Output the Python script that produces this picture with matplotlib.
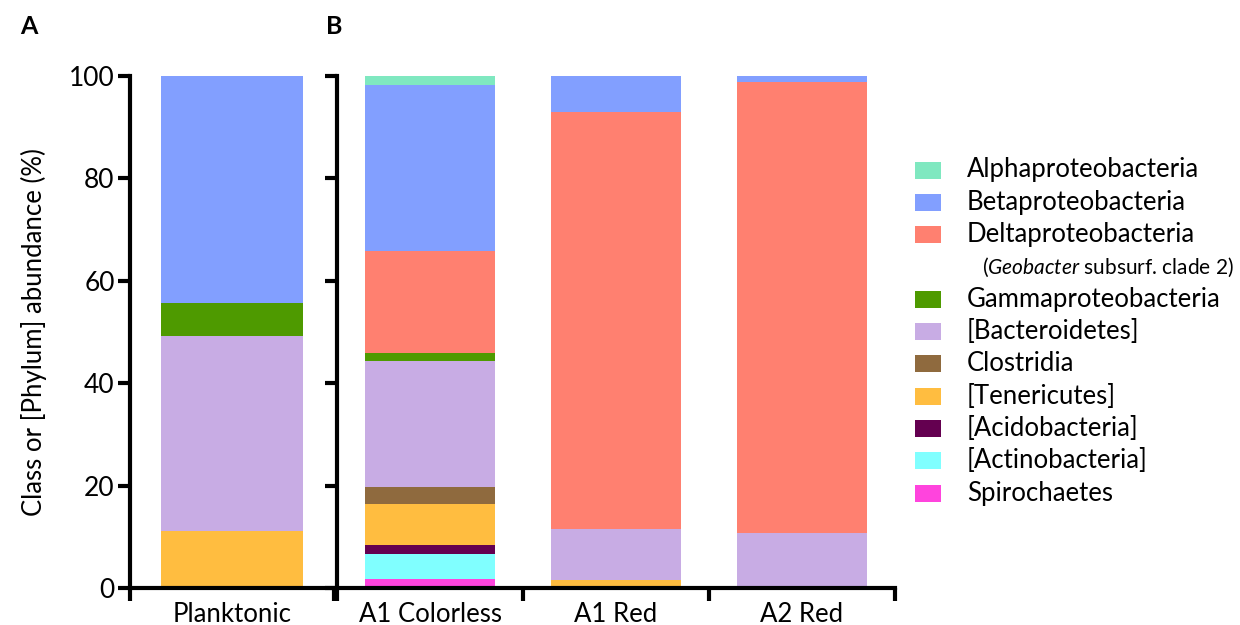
import matplotlib
matplotlib.use('Agg')
import matplotlib.pyplot as plt
import matplotlib.patches as mpatches
import numpy as np

plt.rcParams['font.family'] = ['Lato', 'DejaVu Sans']
plt.rcParams['mathtext.fontset'] = 'custom'
plt.rcParams['mathtext.it'] = 'Lato:italic'
plt.rcParams['mathtext.rm'] = 'Lato'

# taxa, bottom to top of each stack
taxa = ['Spirochaetes', '[Actinobacteria]', '[Acidobacteria]', '[Tenericutes]', 'Clostridia',
        '[Bacteroidetes]', 'Gammaproteobacteria', 'Deltaproteobacteria', 'Betaproteobacteria',
        'Alphaproteobacteria']
colors = ['#FF44DD', '#80FFFF', '#640050', '#FFBD40', '#8F6A3E',
          '#C8ACE4', '#4E9A00', '#FF8070', '#829FFF', '#7FE8C0']

samples_a = ['Planktonic']
samples_b = ['A1 Colorless', 'A1 Red', 'A2 Red']

# percent per taxon, same order as taxa
planktonic = [0, 0, 0, 11.2, 0, 38.0, 6.5, 0, 44.3, 0]
a1_colorless = [1.7, 4.9, 1.8, 8.0, 3.3, 24.6, 1.6, 19.9, 32.4, 1.8]
a1_red = [0, 0, 0, 1.6, 0, 9.9, 0, 81.5, 7.0, 0]
a2_red = [0, 0, 0, 0, 0, 10.7, 0, 88.1, 1.2, 0]

fig = plt.figure(figsize=(12.4, 6.25), dpi=100)
axA = fig.add_axes([0.1048, 0.0592, 0.1645, 0.8192])
axB = fig.add_axes([0.2718, 0.0592, 0.450, 0.8192])


def stack(ax, names, data):
    data = np.array(data).T  # taxa x samples
    x = np.arange(len(names))
    bottom = np.zeros(len(names))
    for i in range(len(taxa)):
        ax.bar(x, data[i], bottom=bottom, width=0.70, color=colors[i], linewidth=0)
        bottom += data[i]


def style(ax, names, show_y):
    n = len(names)
    ax.set_xlim(-0.5, n - 0.5)
    ax.set_ylim(0, 100)
    for s in ['top', 'right']:
        ax.spines[s].set_visible(False)
    for s in ['left', 'bottom']:
        ax.spines[s].set_linewidth(3)
    ax.set_yticks([0, 20, 40, 60, 80, 100])
    ax.tick_params(axis='y', length=9, width=3, labelsize=19, pad=2)
    if not show_y:
        ax.set_yticklabels([])
    ax.set_xticks(np.arange(n))
    ax.set_xticklabels(names, fontsize=18.5)
    ax.tick_params(axis='x', which='major', length=0, pad=10)
    ax.set_xticks(np.arange(n + 1) - 0.5, minor=True)
    ax.tick_params(axis='x', which='minor', length=9, width=3)


stack(axA, samples_a, [planktonic])
stack(axB, samples_b, [a1_colorless, a1_red, a2_red])
style(axA, samples_a, True)
style(axB, samples_b, False)
axA.set_ylabel('Class or [Phylum] abundance (%)', fontsize=18.5, labelpad=16)

fig.text(0.016, 0.958, 'A', fontsize=18, fontweight='bold', va='center')
fig.text(0.263, 0.958, 'B', fontsize=18, fontweight='bold', va='center')

# legend, drawn by hand to fit the extra Geobacter line
legend_order = list(range(len(taxa)))[::-1]
row = 0
y0 = 1 - 170 / 625
dy = 32.3 / 625
for i in legend_order:
    y = y0 - row * dy
    fig.add_artist(mpatches.Rectangle((915 / 1240, y - 8.5 / 625), 26 / 1240, 17 / 625,
                                      transform=fig.transFigure, color=colors[i], lw=0))
    fig.text(967 / 1240, y, taxa[i], fontsize=18.5, va='center')
    row += 1
    if taxa[i] == 'Deltaproteobacteria':
        fig.text(982 / 1240, y0 - row * dy, r'($\mathit{Geobacter}$ subsurf. clade 2)',
                 fontsize=15, va='center')
        row += 1

fig.savefig('out.png', dpi=100)
